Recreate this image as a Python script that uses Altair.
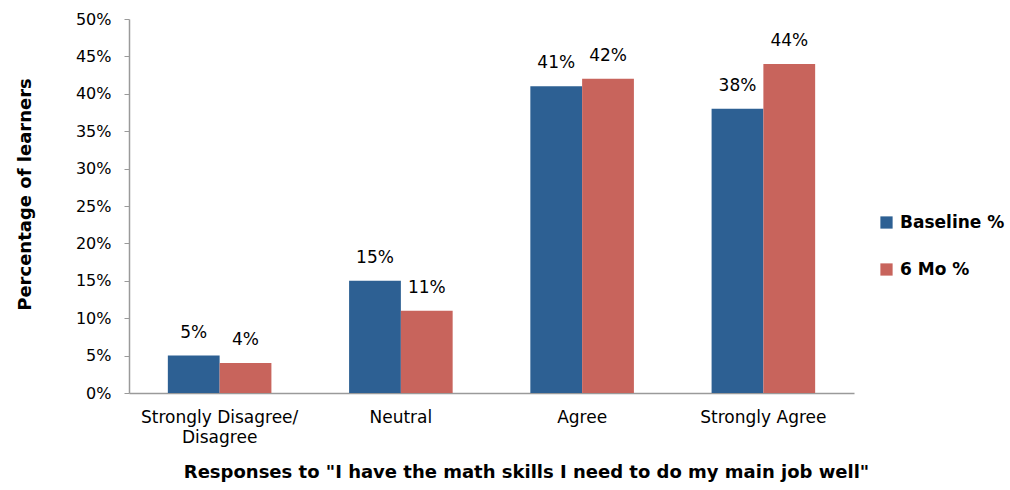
import altair as alt
import pandas as pd

categories = ["Strongly Disagree/ Disagree", "Neutral", "Agree", "Strongly Agree"]
series = ["Baseline %", "6 Mo %"]
baseline = [5, 15, 41, 38]
six_mo = [4, 11, 42, 44]
colors = ["#2D6093", "#C8645C"]

rows = []
for c, b, s in zip(categories, baseline, six_mo):
    rows.append({"cat": c, "series": series[0], "val": b / 100})
    rows.append({"cat": c, "series": series[1], "val": s / 100})
df = pd.DataFrame(rows)

FONT = "DejaVu Sans"

x = alt.X("cat:N", sort=categories,
          scale=alt.Scale(paddingInner=0.4286, paddingOuter=0.2143),
          axis=alt.Axis(title='Responses to "I have the math skills I need to do my main job well"',
                        labelAngle=0, ticks=False, labelFontSize=17, labelFont=FONT,
                        labelColor="black", labelPadding=16, labelLineHeight=20,
                        labelExpr="datum.value == 'Strongly Disagree/ Disagree' ? ['Strongly Disagree/', 'Disagree'] : datum.label",
                        domainColor="#9a9a9a", domainWidth=1.5,
                        titleFontSize=18, titleFont=FONT, titleFontWeight="bold",
                        titleColor="black", titleX=397, titleY=70, titleBaseline="top",
                        titleAnchor="middle"))
y = alt.Y("val:Q", scale=alt.Scale(domain=[0, 0.5], nice=False),
          axis=alt.Axis(title="Percentage of learners", format=".0%", values=[i / 100 for i in range(0, 51, 5)],
                        grid=False, tickSize=5, tickColor="#9a9a9a", domainColor="#9a9a9a",
                        domainWidth=1.5, labelFontSize=16, labelFont=FONT, labelColor="black",
                        labelPadding=13, titleFontSize=18, titleFont=FONT, titleFontWeight="bold",
                        titleColor="black", titleX=-104, titleY=175, titleAngle=-90,
                        titleBaseline="middle", titleAnchor="middle"))

base = alt.Chart(df).encode(
    x=x,
    xOffset=alt.XOffset("series:N", sort=series),
    y=y,
)

bars = base.mark_bar().encode(
    color=alt.Color("series:N", sort=series, scale=alt.Scale(domain=series, range=colors),
                    legend=alt.Legend(title=None, orient="none", legendX=749, legendY=195,
                                      symbolType="square", symbolSize=150, symbolStrokeWidth=0,
                                      labelFontSize=17, labelFont=FONT, labelFontWeight="bold",
                                      labelColor="black", rowPadding=29, labelOffset=5))
)

labels = base.mark_text(baseline="bottom", dy=-14, fontSize=17, font=FONT, color="black").encode(
    text=alt.Text("val:Q", format=".0%")
)

chart = (bars + labels).properties(
    width=725, height=374,
    background="white",
    autosize=alt.AutoSizeParams(type="none"),
    padding={"left": 129, "top": 19, "right": 156, "bottom": 97},
).configure_view(stroke=None)

chart.save("out.html", embed_options={"renderer": "svg", "actions": False})
